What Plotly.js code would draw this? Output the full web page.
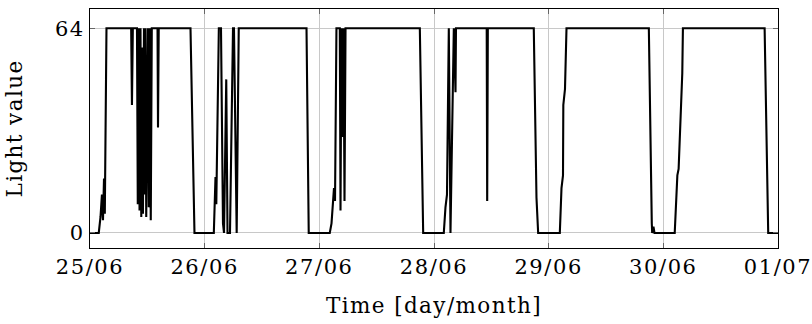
<!DOCTYPE html>
<html>
<head>
<meta charset="utf-8">
<script src="https://cdn.plot.ly/plotly-3.0.1.min.js"></script>
<style>
html,body{margin:0;padding:0;background:#fff;}
#chart{width:812px;height:324px;}
.xtick text, .ytick text{letter-spacing:1.6px;}
.g-xtitle text, .g-ytitle text{letter-spacing:1.4px;}
</style>
</head>
<body>
<div id="chart"></div>
<script>
const times = [
  "2021-06-25 00:00","2021-06-25 01:50","2021-06-25 02:12","2021-06-25 02:30","2021-06-25 02:43","2021-06-25 02:56","2021-06-25 03:06","2021-06-25 03:27",
  "2021-06-25 08:37","2021-06-25 08:47","2021-06-25 08:58","2021-06-25 09:50","2021-06-25 10:00","2021-06-25 10:13","2021-06-25 10:22","2021-06-25 10:34",
  "2021-06-25 10:44","2021-06-25 10:57","2021-06-25 11:05","2021-06-25 11:18","2021-06-25 11:28","2021-06-25 11:37","2021-06-25 11:46","2021-06-25 11:58",
  "2021-06-25 12:08","2021-06-25 12:18","2021-06-25 12:31","2021-06-25 12:43","2021-06-25 12:56","2021-06-25 14:08","2021-06-25 14:14","2021-06-25 14:23",
  "2021-06-25 21:02","2021-06-25 21:52",
  "2021-06-26 01:55","2021-06-26 02:16","2021-06-26 02:26","2021-06-26 02:58","2021-06-26 03:25","2021-06-26 03:50","2021-06-26 04:03","2021-06-26 04:31",
  "2021-06-26 04:47","2021-06-26 05:18","2021-06-26 05:56","2021-06-26 06:08","2021-06-26 06:34","2021-06-26 06:42","2021-06-26 07:08","2021-06-26 21:19",
  "2021-06-26 21:47",
  "2021-06-27 02:11","2021-06-27 02:33","2021-06-27 02:52","2021-06-27 03:04","2021-06-27 03:17","2021-06-27 03:35","2021-06-27 04:17","2021-06-27 04:26",
  "2021-06-27 04:38","2021-06-27 04:55","2021-06-27 05:04","2021-06-27 05:16","2021-06-27 05:29","2021-06-27 21:02","2021-06-27 21:44",
  "2021-06-28 02:03","2021-06-28 02:24","2021-06-28 02:43","2021-06-28 03:06","2021-06-28 03:27","2021-06-28 04:09","2021-06-28 04:30","2021-06-28 04:36",
  "2021-06-28 11:02","2021-06-28 11:08","2021-06-28 11:16","2021-06-28 20:53","2021-06-28 21:27","2021-06-28 21:48",
  "2021-06-29 02:20","2021-06-29 02:41","2021-06-29 03:00","2021-06-29 03:04","2021-06-29 03:25","2021-06-29 03:44","2021-06-29 20:58","2021-06-29 21:35",
  "2021-06-29 21:40","2021-06-29 21:56","2021-06-29 22:09",
  "2021-06-30 02:23","2021-06-30 02:56","2021-06-30 03:12","2021-06-30 03:25","2021-06-30 03:46","2021-06-30 03:58","2021-06-30 04:06","2021-06-30 21:12",
  "2021-06-30 21:57","2021-07-01 00:00"
];
const lightValues = [
  0,0,5,12,4,17,6,64,
  64,40,64,64,9,64,7,64,
  5,58,6,64,12,64,5,30,
  64,8,64,4,64,64,33,64,
  64,0,
  0,17.5,9,64,64,3,0,48,
  0,0,64,64,0,0,64,64,
  0,
  0,3,12,14,10,64,64,7,
  64,30,64,10,64,64,0,
  0,8,12,64,0,64,44,64,
  64,10,64,64,11,0,
  0,14,18,40,45,64,64,3,
  0,2,0,
  0,18,20,30,44,50,64,64,
  0,0
];
const xRange = ["2021-06-25 00:00","2021-07-01 00:00"];
const yTicks = [0, 64];
const xTitle = "Time [day/month]";
const yTitle = "Light value";

const fontFam = "DejaVu Serif, serif";
Plotly.newPlot("chart", [{
  x: times, y: lightValues, type: "scatter", mode: "lines",
  line: {color: "#000", width: 2.1}, hoverinfo: "skip"
}], {
  width: 812, height: 324,
  margin: {l: 90, r: 34, t: 9, b: 76},
  paper_bgcolor: "#fff", plot_bgcolor: "#fff",
  showlegend: false,
  font: {family: fontFam, size: 21, color: "#000"},
  xaxis: {
    type: "date", range: xRange, dtick: 86400000, tick0: xRange[0],
    tickformat: "%d/%m", showgrid: true, gridcolor: "#c8c8c8", gridwidth: 1,
    showline: true, linecolor: "#000", linewidth: 1, mirror: "ticks",
    ticks: "inside", ticklen: 5, tickcolor: "#666", zeroline: false,
    ticklabeloverflow: "allow",
    tickfont: {family: fontFam, size: 21},
    title: {text: xTitle, font: {family: fontFam, size: 21.5}, standoff: 19}
  },
  yaxis: {
    range: [-4.7, 70], tickvals: yTicks, ticktext: yTicks.map(String),
    showgrid: true, gridcolor: "#c8c8c8", gridwidth: 1,
    showline: true, linecolor: "#000", linewidth: 1, mirror: "ticks",
    ticks: "inside", ticklen: 5, tickcolor: "#666", zeroline: false,
    ticklabeloverflow: "allow",
    tickfont: {family: fontFam, size: 21},
    title: {text: yTitle, font: {family: fontFam, size: 21.5}, standoff: 26}
  }
}, {staticPlot: true});
</script>
</body>
</html>
